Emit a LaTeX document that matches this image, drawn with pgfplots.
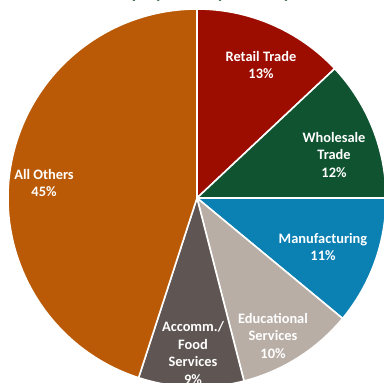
\documentclass[border=0pt]{standalone}
\usepackage{pgfplots}
\pgfplotsset{compat=1.18}
\usepackage{pgfplotstable}
\usepackage{fontspec}
\setmainfont{Carlito}

\definecolor{retail}{HTML}{9C0D00}
\definecolor{whole}{HTML}{0F5330}
\definecolor{manuf}{HTML}{0A80B3}
\definecolor{educ}{HTML}{B9AEA6}
\definecolor{accom}{HTML}{5F5653}
\definecolor{others}{HTML}{BA5A06}
\definecolor{titlegreen}{HTML}{1E5A32}

% shares in percent, clockwise from 12 o'clock
\pgfplotstableread{
value
13
12
11
10
9
45
}\piedata

\begin{document}
\begin{tikzpicture}
\useasboundingbox (0,0) rectangle (384pt,383pt);
\clip (0,0) rectangle (384pt,383pt);
\begin{axis}[
    at={(0,0)}, anchor=south west,
    scale only axis,
    width=384pt, height=383pt,
    xmin=0, xmax=384,
    ymin=-383, ymax=0,
    hide axis,
    clip=false,
]
\xdef\startang{90}
\foreach \i/\col in {0/retail,1/whole,2/manuf,3/educ,4/accom,5/others}{
    \pgfplotstablegetelem{\i}{value}\of\piedata
    \pgfmathsetmacro\endang{\startang-3.6*\pgfplotsretval}
    \edef\cmd{\noexpand\fill[\col, draw=white, line width=1.6pt, line join=round]
        (axis cs:197,-198) -- ++(\startang:189pt)
        arc[start angle=\startang, end angle=\endang, radius=189pt] -- cycle;}
    \cmd
    \xdef\startang{\endang}
}

\tikzset{lbl/.style={text=white, font=\fontsize{14.4}{17.7}\selectfont\bfseries,
    align=center, inner sep=0pt}}
\node[lbl] at (axis cs:261,-65) {Retail Trade\\13\%};
\node[lbl] at (axis cs:334,-155) {Wholesale\\Trade\\12\%};
\node[lbl] at (axis cs:323,-247) {Manufacturing\\11\%};
\node[lbl] at (axis cs:273,-336) {Educational\\Services\\10\%};
\node[lbl] at (axis cs:193,-353) {Accomm./\\Food\\Services\\9\%};
\node[lbl] at (axis cs:44,-183) {All Others\\45\%};

\node[anchor=base, text=titlegreen, font=\fontsize{18}{20}\selectfont\bfseries, inner sep=0pt]
    at (axis cs:200,1) {Employment by Industry};
\end{axis}
\end{tikzpicture}
\end{document}
